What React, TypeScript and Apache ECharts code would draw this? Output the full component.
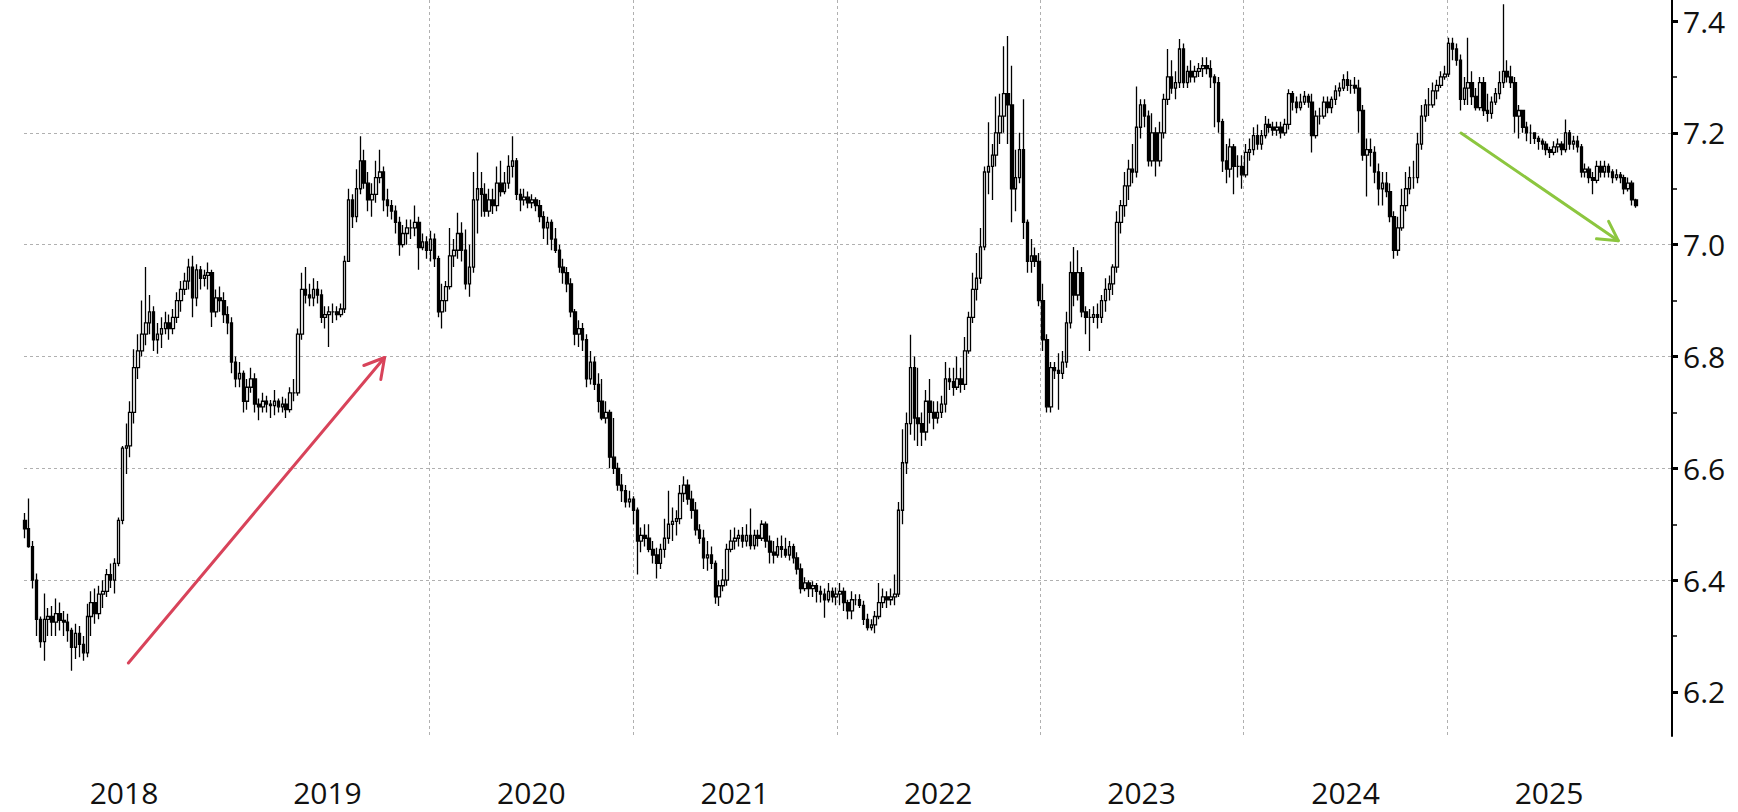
import React, { useEffect, useRef } from "react";
import * as echarts from "echarts";

// Weekly candles: [open, close, low, high]
const w2018 = [
  [6.507,6.492,6.475,6.520],[6.492,6.460,6.458,6.546],[6.460,6.400,6.385,6.470],[6.400,6.330,6.300,6.412],
  [6.330,6.290,6.279,6.335],[6.290,6.330,6.256,6.376],[6.330,6.335,6.300,6.350],[6.335,6.325,6.300,6.354],
  [6.325,6.340,6.300,6.367],[6.340,6.328,6.310,6.360],[6.328,6.325,6.300,6.345],[6.325,6.310,6.290,6.340],
  [6.310,6.280,6.238,6.315],[6.280,6.305,6.259,6.322],[6.305,6.285,6.262,6.318],[6.285,6.270,6.256,6.300],
  [6.270,6.335,6.262,6.358],[6.335,6.360,6.300,6.380],[6.360,6.340,6.322,6.385],[6.340,6.375,6.330,6.390],
  [6.375,6.380,6.350,6.400],[6.380,6.410,6.370,6.420],[6.410,6.400,6.386,6.430],[6.400,6.430,6.376,6.439],
  [6.430,6.507,6.425,6.512],[6.507,6.636,6.500,6.640],[6.636,6.640,6.590,6.680],[6.640,6.700,6.620,6.720],
  [6.700,6.780,6.680,6.813],[6.780,6.810,6.760,6.840],[6.810,6.840,6.800,6.900],[6.840,6.860,6.820,6.960],
  [6.860,6.880,6.840,6.910],[6.880,6.830,6.810,6.890],[6.830,6.840,6.805,6.860],[6.840,6.850,6.815,6.870],
  [6.850,6.860,6.840,6.880],[6.860,6.850,6.830,6.875],[6.850,6.870,6.840,6.885],[6.870,6.900,6.860,6.915],
  [6.900,6.920,6.880,6.935],[6.920,6.935,6.910,6.950],[6.935,6.960,6.920,6.975],[6.960,6.905,6.870,6.980],
  [6.905,6.955,6.890,6.965],[6.955,6.940,6.920,6.962],[6.940,6.945,6.925,6.955],[6.945,6.950,6.920,6.968],
  [6.950,6.880,6.853,6.955],[6.880,6.905,6.870,6.920],[6.905,6.900,6.880,6.925],[6.900,6.875,6.860,6.915],
];
const w2019 = [
  [6.875,6.860,6.840,6.890],[6.860,6.790,6.770,6.870],[6.790,6.760,6.745,6.800],[6.760,6.770,6.745,6.790],
  [6.770,6.720,6.700,6.775],[6.720,6.745,6.705,6.760],[6.745,6.760,6.735,6.780],[6.760,6.715,6.700,6.770],
  [6.715,6.710,6.686,6.725],[6.710,6.720,6.700,6.735],[6.720,6.715,6.700,6.730],[6.715,6.712,6.690,6.722],
  [6.712,6.720,6.695,6.740],[6.720,6.710,6.700,6.725],[6.710,6.715,6.700,6.728],[6.715,6.705,6.690,6.725],
  [6.705,6.735,6.700,6.745],[6.735,6.735,6.720,6.760],[6.735,6.840,6.730,6.850],[6.840,6.920,6.830,6.950],
  [6.920,6.910,6.895,6.960],[6.910,6.905,6.890,6.930],[6.905,6.920,6.890,6.940],[6.920,6.910,6.895,6.935],
  [6.910,6.870,6.860,6.920],[6.870,6.875,6.850,6.890],[6.875,6.880,6.817,6.890],[6.880,6.880,6.860,6.895],
  [6.880,6.875,6.865,6.890],[6.875,6.885,6.870,6.895],[6.885,6.970,6.878,6.980],[6.970,7.080,6.970,7.100],
  [7.080,7.050,7.030,7.090],[7.050,7.100,7.040,7.135],[7.100,7.150,7.090,7.194],[7.150,7.110,7.100,7.170],
  [7.110,7.080,7.060,7.130],[7.080,7.090,7.050,7.110],[7.090,7.120,7.075,7.150],[7.120,7.130,7.110,7.170],
  [7.130,7.080,7.060,7.140],[7.080,7.070,7.050,7.100],[7.070,7.060,7.045,7.080],[7.060,7.040,7.020,7.070],
  [7.040,7.000,6.980,7.050],[7.000,7.020,6.995,7.035],[7.020,7.030,7.000,7.045],[7.030,7.030,7.010,7.045],
  [7.030,7.040,7.015,7.070],[7.040,6.995,6.955,7.050],[6.995,7.005,6.990,7.020],[7.005,6.990,6.975,7.015],
];
const w2020 = [
  [6.990,7.010,6.970,7.025],[7.010,6.975,6.960,7.020],[6.975,6.880,6.870,6.980],[6.880,6.900,6.850,6.930],
  [6.900,6.925,6.880,6.935],[6.925,6.980,6.920,7.030],[6.980,6.990,6.960,7.010],[6.990,7.020,6.975,7.057],
  [7.020,6.990,6.970,7.040],[6.990,6.930,6.920,7.027],[6.930,6.960,6.907,7.000],[6.960,7.080,6.950,7.130],
  [7.080,7.100,7.020,7.165],[7.100,7.090,7.050,7.130],[7.090,7.060,7.050,7.110],[7.060,7.080,7.050,7.100],
  [7.080,7.070,7.055,7.100],[7.070,7.110,7.060,7.140],[7.110,7.095,7.086,7.150],[7.095,7.110,7.090,7.130],
  [7.110,7.140,7.100,7.160],[7.140,7.150,7.120,7.194],[7.150,7.090,7.080,7.155],[7.090,7.080,7.060,7.100],
  [7.080,7.085,7.070,7.100],[7.085,7.075,7.065,7.095],[7.075,7.080,7.065,7.090],[7.080,7.070,7.060,7.085],
  [7.070,7.050,7.040,7.080],[7.050,7.030,7.010,7.060],[7.030,7.040,7.000,7.050],[7.040,7.010,6.990,7.045],
  [7.010,6.990,6.985,7.030],[6.990,6.960,6.950,7.000],[6.960,6.950,6.930,6.975],[6.950,6.930,6.915,6.960],
  [6.930,6.880,6.870,6.940],[6.880,6.840,6.820,6.885],[6.840,6.850,6.817,6.865],[6.850,6.830,6.810,6.860],
  [6.830,6.760,6.745,6.840],[6.760,6.790,6.750,6.810],[6.790,6.750,6.740,6.800],[6.750,6.720,6.700,6.770],
  [6.720,6.690,6.686,6.760],[6.690,6.700,6.680,6.720],[6.700,6.620,6.600,6.705],[6.620,6.600,6.590,6.690],
  [6.600,6.570,6.560,6.610],[6.570,6.560,6.540,6.590],[6.560,6.540,6.530,6.570],[6.540,6.545,6.530,6.560],
];
const w2021 = [
  [6.545,6.525,6.500,6.550],[6.525,6.470,6.410,6.530],[6.470,6.480,6.450,6.494],[6.480,6.475,6.460,6.500],
  [6.475,6.455,6.450,6.500],[6.455,6.445,6.430,6.470],[6.445,6.430,6.403,6.458],[6.430,6.455,6.420,6.465],
  [6.455,6.475,6.440,6.510],[6.475,6.500,6.465,6.560],[6.500,6.505,6.470,6.530],[6.505,6.510,6.480,6.525],
  [6.510,6.555,6.500,6.570],[6.555,6.570,6.540,6.586],[6.570,6.545,6.535,6.580],[6.545,6.525,6.510,6.560],
  [6.525,6.490,6.480,6.540],[6.490,6.475,6.465,6.500],[6.475,6.440,6.420,6.490],[6.440,6.445,6.417,6.470],
  [6.445,6.430,6.420,6.460],[6.430,6.370,6.358,6.435],[6.370,6.390,6.354,6.400],[6.390,6.400,6.380,6.420],
  [6.400,6.455,6.390,6.465],[6.455,6.470,6.450,6.490],[6.470,6.475,6.455,6.494],[6.475,6.480,6.460,6.490],
  [6.480,6.470,6.458,6.495],[6.470,6.480,6.460,6.500],[6.480,6.462,6.455,6.528],[6.462,6.480,6.455,6.490],
  [6.480,6.475,6.460,6.490],[6.475,6.500,6.470,6.507],[6.500,6.470,6.458,6.505],[6.470,6.450,6.430,6.480],
  [6.450,6.445,6.430,6.470],[6.445,6.460,6.440,6.476],[6.460,6.455,6.440,6.480],[6.455,6.445,6.440,6.476],
  [6.445,6.460,6.435,6.470],[6.460,6.440,6.430,6.465],[6.440,6.420,6.410,6.450],[6.420,6.385,6.376,6.430],
  [6.385,6.395,6.380,6.405],[6.395,6.385,6.370,6.400],[6.385,6.390,6.370,6.398],[6.390,6.380,6.360,6.395],
  [6.380,6.375,6.360,6.390],[6.375,6.365,6.333,6.385],[6.365,6.380,6.360,6.395],[6.380,6.370,6.360,6.387],
  [6.370,6.375,6.355,6.387],
];
const w2022 = [
  [6.375,6.380,6.355,6.395],[6.380,6.360,6.345,6.387],[6.360,6.345,6.330,6.365],[6.345,6.365,6.330,6.380],
  [6.365,6.365,6.355,6.375],[6.365,6.355,6.350,6.375],[6.355,6.330,6.320,6.363],[6.330,6.315,6.310,6.340],
  [6.315,6.320,6.310,6.330],[6.320,6.335,6.305,6.345],[6.335,6.360,6.330,6.395],[6.360,6.370,6.350,6.385],
  [6.370,6.365,6.350,6.380],[6.365,6.370,6.355,6.385],[6.370,6.375,6.355,6.410],[6.375,6.525,6.370,6.540],
  [6.525,6.610,6.500,6.670],[6.610,6.680,6.590,6.700],[6.680,6.780,6.660,6.839],[6.780,6.690,6.650,6.800],
  [6.690,6.680,6.640,6.780],[6.680,6.665,6.640,6.700],[6.665,6.720,6.650,6.740],[6.720,6.700,6.680,6.760],
  [6.700,6.690,6.670,6.720],[6.690,6.700,6.680,6.720],[6.700,6.715,6.690,6.730],[6.715,6.760,6.700,6.790],
  [6.760,6.755,6.740,6.780],[6.755,6.745,6.730,6.780],[6.745,6.760,6.740,6.800],[6.760,6.750,6.735,6.780],
  [6.750,6.810,6.740,6.835],[6.810,6.870,6.805,6.880],[6.870,6.920,6.860,6.950],[6.920,6.940,6.900,6.985],
  [6.940,6.996,6.930,7.030],[6.996,7.130,6.990,7.140],[7.130,7.140,7.090,7.219],[7.140,7.160,7.080,7.180],
  [7.160,7.200,7.140,7.265],[7.200,7.230,7.180,7.270],[7.230,7.270,7.200,7.355],[7.270,7.250,7.180,7.373],
  [7.250,7.100,7.040,7.320],[7.100,7.120,7.060,7.170],[7.120,7.170,7.110,7.200],[7.170,7.040,7.010,7.260],
  [7.040,6.970,6.950,7.045],[6.970,6.980,6.950,7.010],[6.980,6.970,6.960,6.995],[6.970,6.900,6.890,6.985],
];
const w2023 = [
  [6.900,6.830,6.810,6.930],[6.830,6.710,6.700,6.840],[6.710,6.780,6.700,6.790],[6.780,6.775,6.760,6.790],
  [6.775,6.770,6.705,6.806],[6.770,6.790,6.760,6.810],[6.790,6.860,6.780,6.880],[6.860,6.950,6.850,6.970],
  [6.950,6.910,6.890,6.996],[6.910,6.950,6.900,6.990],[6.950,6.880,6.870,6.960],[6.880,6.870,6.840,6.890],
  [6.870,6.870,6.810,6.885],[6.870,6.875,6.860,6.890],[6.875,6.870,6.850,6.895],[6.870,6.900,6.860,6.910],
  [6.900,6.920,6.880,6.940],[6.920,6.930,6.900,6.945],[6.930,6.960,6.910,6.965],[6.960,7.040,6.950,7.060],
  [7.040,7.070,7.020,7.080],[7.070,7.105,7.050,7.130],[7.105,7.135,7.080,7.152],[7.135,7.130,7.110,7.180],
  [7.130,7.210,7.120,7.283],[7.210,7.250,7.190,7.260],[7.250,7.230,7.210,7.260],[7.230,7.150,7.140,7.240],
  [7.150,7.200,7.140,7.235],[7.200,7.150,7.122,7.210],[7.150,7.200,7.140,7.220],[7.200,7.260,7.190,7.270],
  [7.260,7.300,7.250,7.350],[7.300,7.280,7.270,7.330],[7.280,7.290,7.260,7.310],[7.290,7.350,7.280,7.368],
  [7.350,7.290,7.280,7.360],[7.290,7.310,7.280,7.320],[7.310,7.300,7.290,7.330],[7.300,7.310,7.290,7.320],
  [7.310,7.315,7.300,7.325],[7.315,7.320,7.300,7.335],[7.320,7.315,7.305,7.335],[7.315,7.300,7.280,7.330],
  [7.300,7.290,7.210,7.305],[7.290,7.220,7.200,7.300],[7.220,7.150,7.130,7.225],[7.150,7.135,7.110,7.180],
  [7.135,7.175,7.120,7.190],[7.175,7.140,7.090,7.180],[7.140,7.140,7.120,7.160],[7.140,7.125,7.100,7.160],
];
const w2024 = [
  [7.125,7.165,7.120,7.180],[7.165,7.170,7.150,7.190],[7.170,7.195,7.160,7.210],[7.195,7.180,7.170,7.215],
  [7.180,7.195,7.170,7.205],[7.195,7.215,7.190,7.230],[7.215,7.210,7.200,7.225],[7.210,7.205,7.195,7.220],
  [7.205,7.210,7.195,7.220],[7.210,7.200,7.190,7.220],[7.200,7.215,7.195,7.225],[7.215,7.270,7.206,7.278],
  [7.270,7.255,7.240,7.275],[7.255,7.245,7.235,7.265],[7.245,7.255,7.240,7.270],[7.255,7.265,7.250,7.275],
  [7.265,7.255,7.245,7.270],[7.255,7.195,7.165,7.270],[7.195,7.230,7.190,7.240],[7.230,7.230,7.215,7.245],
  [7.230,7.255,7.225,7.265],[7.255,7.245,7.235,7.265],[7.245,7.260,7.235,7.265],[7.260,7.275,7.250,7.285],
  [7.275,7.280,7.265,7.290],[7.280,7.295,7.275,7.305],[7.295,7.285,7.275,7.310],[7.285,7.285,7.270,7.295],
  [7.285,7.280,7.270,7.300],[7.280,7.240,7.200,7.295],[7.240,7.160,7.150,7.250],[7.160,7.170,7.086,7.190],
  [7.170,7.165,7.140,7.190],[7.165,7.130,7.110,7.176],[7.130,7.100,7.070,7.145],[7.100,7.110,7.070,7.130],
  [7.110,7.095,7.085,7.130],[7.095,7.050,7.040,7.110],[7.050,6.990,6.975,7.060],[6.990,7.030,6.980,7.050],
  [7.030,7.070,7.025,7.100],[7.070,7.100,7.060,7.130],[7.100,7.120,7.090,7.140],[7.120,7.120,7.100,7.150],
  [7.120,7.180,7.110,7.200],[7.180,7.230,7.170,7.250],[7.230,7.250,7.220,7.260],[7.250,7.250,7.230,7.280],
  [7.250,7.275,7.245,7.290],[7.275,7.285,7.260,7.295],[7.285,7.300,7.280,7.310],[7.300,7.305,7.295,7.320],
];
const w2025 = [
  [7.305,7.360,7.300,7.370],[7.360,7.350,7.330,7.370],[7.350,7.330,7.320,7.360],[7.330,7.260,7.240,7.340],
  [7.260,7.280,7.250,7.300],[7.280,7.290,7.250,7.370],[7.290,7.265,7.250,7.310],[7.265,7.245,7.240,7.280],
  [7.245,7.290,7.240,7.300],[7.290,7.240,7.230,7.300],[7.240,7.235,7.220,7.270],[7.235,7.255,7.225,7.265],
  [7.255,7.270,7.250,7.280],[7.270,7.290,7.260,7.310],[7.290,7.310,7.280,7.430],[7.310,7.300,7.290,7.330],
  [7.300,7.290,7.280,7.320],[7.290,7.230,7.200,7.300],[7.230,7.240,7.190,7.250],[7.240,7.210,7.200,7.230],
  [7.210,7.200,7.185,7.220],[7.200,7.200,7.180,7.215],[7.200,7.190,7.180,7.200],[7.190,7.185,7.170,7.195],
  [7.185,7.180,7.170,7.190],[7.180,7.170,7.160,7.185],[7.170,7.165,7.155,7.175],[7.165,7.175,7.160,7.185],
  [7.175,7.180,7.165,7.190],[7.180,7.170,7.160,7.185],[7.170,7.200,7.165,7.224],[7.200,7.180,7.170,7.205],
  [7.180,7.185,7.170,7.195],[7.185,7.175,7.165,7.195],[7.175,7.130,7.120,7.180],[7.130,7.135,7.120,7.145],
  [7.135,7.120,7.110,7.140],[7.120,7.115,7.090,7.130],[7.115,7.140,7.110,7.150],[7.140,7.130,7.120,7.150],
  [7.130,7.140,7.120,7.150],[7.140,7.130,7.120,7.145],[7.130,7.120,7.110,7.135],[7.120,7.125,7.115,7.135],
  [7.125,7.120,7.110,7.130],[7.120,7.100,7.090,7.125],[7.100,7.110,7.095,7.120],[7.110,7.080,7.070,7.115],
  [7.080,7.070,7.066,7.082],
];

const yearWeeks = [w2018, w2019, w2020, w2021, w2022, w2023, w2024, w2025];
const firstFridays = ["2018-01-05","2019-01-04","2020-01-03","2021-01-01","2022-01-07","2023-01-06","2024-01-05","2025-01-03"];
const yearLabels = ["2018","2019","2020","2021","2022","2023","2024","2025"];
const yMajorTicks = [6.2, 6.4, 6.6, 6.8, 7.0, 7.2, 7.4];
const yMinorTicks = [6.3, 6.5, 6.7, 6.9, 7.1, 7.3];

const DAY = 86400000;
const Y_MIN = 6.1213;
const Y_MAX = 7.4376;
const X_MIN = Date.UTC(2018, 0, 1, 12);
const X_MAX = Date.UTC(2026, 1, 7, 17);

export default function App() {
  const ref = useRef<HTMLDivElement>(null);
  useEffect(() => {
    if (!ref.current) return;
    const chart = echarts.init(ref.current, null, { renderer: "svg" });
    const candles: any[] = [];
    yearWeeks.forEach((arr, k) => {
      const t0 = Date.parse(firstFridays[k]);
      arr.forEach((d, i) => candles.push([t0 + i * 7 * DAY, d[0], d[1], d[2], d[3]]));
    });
    const yearStarts = yearLabels.map((y) => Date.UTC(+y + 1, 0, 1));
    const midYears = yearLabels.map((y) => Date.UTC(+y, 6, 2));
    const font = "'Open Sans', 'Noto Sans', sans-serif";
    const gridLine = { color: "#b0b0b0", type: [3, 3] as any, width: 1 };
    const gridRect = { left: 24, top: 0, width: 1648, height: 736 };

    const red = "#d8435a";
    const green = "#8cc63f";
    const arrow = (x1: number, y1: number, x2: number, y2: number, a: number[], b: number[], color: string) => [
      { type: "line", z: 100, shape: { x1, y1, x2, y2 }, style: { stroke: color, lineWidth: 3, lineCap: "round" } },
      { type: "polyline", z: 100, shape: { points: [a, [x2, y2], b] }, style: { stroke: color, lineWidth: 3, fill: null, lineCap: "round", lineJoin: "round" } },
    ];

    chart.setOption({
      animation: false,
      backgroundColor: "#ffffff",
      textStyle: { fontFamily: font },
      grid: [
        { ...gridRect },
        { ...gridRect },
      ],
      xAxis: [
        {
          type: "value",
          gridIndex: 0,
          min: Date.UTC(2018, 0, 3, 12),
          max: X_MAX,
          axisLine: { show: false },
          axisTick: { show: false, customValues: yearStarts },
          splitLine: { show: true, showMinLine: false, showMaxLine: false, lineStyle: gridLine },
          axisLabel: {
            customValues: midYears,
            formatter: (v: number) => String(new Date(v).getUTCFullYear()),
            fontSize: 30,
            color: "#111111",
            fontFamily: font,
            margin: 41,
            hideOverlap: false,
          },
        },
        { type: "value", gridIndex: 1, min: Date.UTC(2018, 0, 3, 12), max: X_MAX, show: false },
      ],
      yAxis: [
        {
          type: "value",
          gridIndex: 0,
          position: "right",
          min: Y_MIN,
          max: Y_MAX,
          splitNumber: 6,
          axisLine: { show: true, lineStyle: { color: "#000", width: 2 } },
          axisTick: { show: true, length: 6, customValues: yMajorTicks, lineStyle: { color: "#000", width: 3 } },
          axisLabel: {
            customValues: yMajorTicks,
            formatter: (v: number) => v.toFixed(1),
            fontSize: 30,
            color: "#111111",
            fontFamily: font,
            margin: 11,
          },
          splitLine: { show: true, showMinLine: false, showMaxLine: false, lineStyle: gridLine },
        },
        {
          type: "value",
          gridIndex: 1,
          position: "right",
          min: Y_MIN,
          max: Y_MAX,
          axisLine: { show: false },
          axisTick: { show: true, length: 5, customValues: yMinorTicks, lineStyle: { color: "#000", width: 1.5 } },
          axisLabel: { show: false },
          splitLine: { show: false },
        },
      ],
      series: [
        {
          type: "candlestick",
          xAxisIndex: 0,
          yAxisIndex: 0,
          data: candles,
          encode: { x: 0, y: [1, 2, 3, 4] },
          barWidth: 3,
          itemStyle: {
            color: "#ffffff",
            color0: "#000000",
            borderColor: "#000000",
            borderColor0: "#000000",
            borderWidth: 1.3,
          },
        },
      ],
      graphic: [
        ...arrow(128.4, 663, 384.6, 357.5, [363.8, 365.5], [380.8, 379.5], red),
        ...arrow(1461, 133, 1618.3, 240.7, [1608.6, 221.3], [1596.5, 238.8], green),
      ],
    });
    return () => chart.dispose();
  }, []);
  return <div ref={ref} style={{ position: "absolute", left: 0, top: 0, width: 1738, height: 812 }} />;
}
